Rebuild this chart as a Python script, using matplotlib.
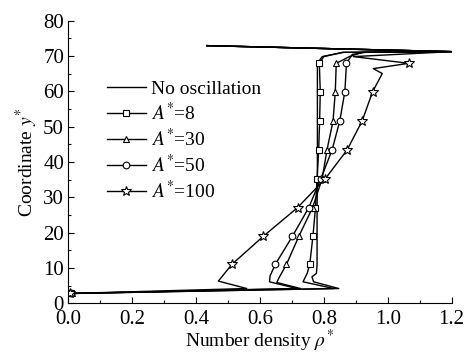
import matplotlib
matplotlib.use('Agg')
import matplotlib.pyplot as plt
import matplotlib.transforms as mtransforms
from matplotlib.ticker import MultipleLocator

plt.rcParams['font.family'] = ['Liberation Serif', 'DejaVu Serif']
plt.rcParams['mathtext.fontset'] = 'stix'

# No oscillation (line only)
x_none = [0.01, 0.847, 0.768, 0.763, 0.777, 0.779, 0.779, 0.779, 0.78, 0.78, 0.78, 0.78, 0.78, 0.795, 0.86, 1.2, 0.434]
y_none = [2.8, 4.2, 6.1, 7.5, 8.5, 11.0, 19.0, 27.1, 35.3, 43.4, 51.6, 59.9, 67.9, 69.8, 71.0, 71.2, 72.9]

# A*=8
x_a8 = [0.01, 0.831, 0.735, 0.748, 0.756, 0.766, 0.774, 0.779, 0.784, 0.787, 0.789, 0.786, 0.80, 0.86, 1.2, 0.434]
y_a8 = [2.8, 4.2, 6.1, 8.5, 11.0, 19.0, 27.1, 35.3, 43.4, 51.6, 59.9, 67.9, 69.8, 71.0, 71.2, 72.9]
mk_a8 = [0, 4, 5, 6, 7, 8, 9, 10, 11]

# A*=30
x_a30 = [0.012, 0.727, 0.653, 0.659, 0.683, 0.722, 0.765, 0.795, 0.81, 0.829, 0.836, 0.839, 0.88, 0.92, 1.2, 0.434]
y_a30 = [2.8, 4.2, 5.9, 7.1, 11.0, 19.0, 27.1, 35.3, 43.4, 51.6, 59.9, 67.9, 69.8, 71.0, 71.2, 72.9]
mk_a30 = [0, 4, 5, 6, 7, 8, 9, 10, 11]

# A*=50
x_a50 = [0.008, 0.716, 0.630, 0.632, 0.648, 0.702, 0.753, 0.791, 0.826, 0.85, 0.866, 0.871, 0.889, 0.93, 1.2, 0.434]
y_a50 = [2.8, 4.2, 6.1, 7.8, 11.0, 19.0, 27.1, 35.3, 43.4, 51.6, 59.9, 67.9, 70.4, 71.0, 71.2, 72.9]
mk_a50 = [0, 4, 5, 6, 7, 8, 9, 10, 11]

# A*=100
x_a100 = [0.005, 0.559, 0.47, 0.512, 0.611, 0.718, 0.805, 0.873, 0.92, 0.953, 0.983, 0.955, 1.066, 0.893, 1.2, 0.434]
y_a100 = [2.8, 4.2, 6.3, 11.0, 19.0, 27.1, 35.3, 43.4, 51.6, 59.9, 65.0, 66.4, 67.9, 69.8, 71.2, 72.9]
mk_a100 = [0, 3, 4, 5, 6, 7, 8, 9, 12]

fig = plt.figure(figsize=(4.67, 3.54), dpi=100)
ax = fig.add_axes([0.146, 0.143, 0.821, 0.799])

lw = 1.0
ax.plot(x_none, y_none, color='black', lw=lw, label='No oscillation')
ax.plot(x_a8, y_a8, color='black', lw=lw, marker='s', ms=4.2, mfc='white', mec='black', mew=0.8,
        markevery=mk_a8, label='$A^{*}$=8')
ax.plot(x_a30, y_a30, color='black', lw=lw, marker='^', ms=5.0, mfc='white', mec='black', mew=0.8,
        markevery=mk_a30, label='$A^{*}$=30')
ax.plot(x_a50, y_a50, color='black', lw=lw, marker='o', ms=4.8, mfc='white', mec='black', mew=0.8,
        markevery=mk_a50, label='$A^{*}$=50')
ax.plot(x_a100, y_a100, color='black', lw=lw, marker='*', ms=7, mfc='white', mec='black', mew=0.8,
        markevery=mk_a100, label='$A^{*}$=100')

ax.set_xlim(0, 1.2)
ax.set_ylim(0, 80)
ax.xaxis.set_major_locator(MultipleLocator(0.2))
ax.xaxis.set_minor_locator(MultipleLocator(0.1))
ax.yaxis.set_major_locator(MultipleLocator(10))
ax.yaxis.set_minor_locator(MultipleLocator(5))
ax.xaxis.set_major_formatter(plt.FuncFormatter(lambda v, p: f'{v:.1f}'))
ax.tick_params(which='both', direction='in', labelsize=15)
ax.tick_params(axis='x', pad=5)
ax.tick_params(axis='y', pad=3)
ax.tick_params(which='major', length=4, width=0.8)
ax.tick_params(which='minor', length=2.5, width=0.8)
ax.spines['top'].set_visible(False)
ax.spines['right'].set_visible(False)

# nudge the y "0" label up a bit so it clears "0.0"
ylab0 = ax.get_yticklabels()[0]
ylab0.set_transform(ylab0.get_transform() + mtransforms.ScaledTranslation(-1 / 72, 3 / 72, fig.dpi_scale_trans))

ax.set_xlabel(r'Number density $\rho^{*}$', fontsize=14, labelpad=-1)
ax.set_ylabel(r'Coordinate $y^{*}$', fontsize=14, labelpad=2)

ax.legend(loc='upper left', bbox_to_anchor=(0.08, 0.815), frameon=False, fontsize=14,
          handlelength=2.0, handletextpad=0.3, labelspacing=0.2, borderaxespad=0)

fig.savefig('out.png', dpi=100)
